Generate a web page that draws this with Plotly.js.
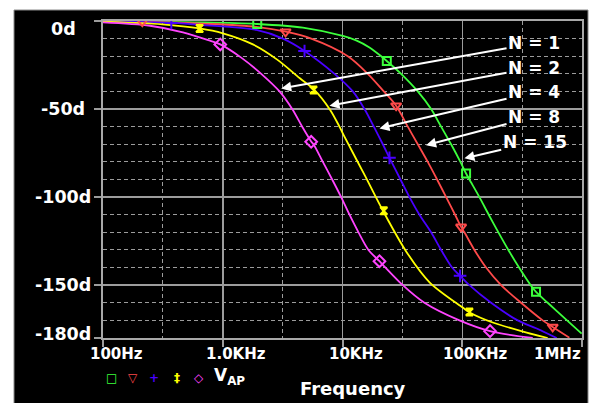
<!DOCTYPE html>
<html><head><meta charset="utf-8">
<script src="https://cdn.plot.ly/plotly-3.0.1.min.js"></script>
<style>html,body{margin:0;padding:0;background:#fff}#chart{width:590px;height:403px}</style>
</head><body><div id="chart"></div>
<script>
// ---- data (frequency in Hz, phase in degrees) ----
const greenF = [100, 683, 1941, 4667, 10060, 13000, 16800, 21020, 23440, 30880, 42540, 54950, 66600, 80690, 96540, 107640, 114760, 139130, 166400, 200400, 242800, 298100, 372800, 413180, 517000, 749600, 993600];
const greenP = [-0.3, -0.8, -1.7, -3.8, -8.5, -11, -15, -20, -22.7, -30, -40, -50, -60, -70, -80, -86.6, -90, -100, -110, -120, -130, -140, -150, -153.8, -160, -170, -177.5];
const redF = [100, 213, 683, 1904, 3345, 5476, 11080, 16270, 22130, 28040, 35100, 42540, 51530, 61660, 73320, 87140, 97790, 104260, 126360, 158130, 210960, 309740, 469590, 569200, 784300];
const redP = [-0.2, -0.4, -1.5, -3.3, -6.1, -10, -20, -30, -40, -48.1, -60, -70, -80, -90, -100, -110, -116.9, -120, -130, -140, -150, -160, -170, -173.7, -179.8];
const blueF = [100, 372, 683, 1904, 3178, 4819, 8576, 12200, 15260, 18260, 21710, 24670, 30480, 36240, 43920, 54950, 66600, 82260, 95920, 114760, 174000, 290500, 418600, 614500];
const blueP = [-0.2, -1.1, -2.3, -5.1, -10, -17, -30, -40, -50, -60, -70, -77.7, -90, -100, -110, -120, -130, -140, -144.7, -150, -160, -170, -174.6, -180];
const yellowF = [100, 313, 641, 1003, 1785, 2831, 4405, 5766, 7842, 9502, 10460, 15360, 21710, 34430, 53560, 100970, 115500, 179700, 345300, 517000];
const yellowP = [-0.4, -1.9, -4.2, -7, -13.3, -21.8, -32.5, -38.8, -50.2, -60.4, -66.1, -87.7, -107.6, -131.4, -148.5, -162.7, -165.5, -171.2, -176.9, -180];
const magentaF = [100, 247, 465, 782, 953, 1427, 2096, 2981, 3802, 4607, 5476, 5728, 6855, 8200, 9748, 11440, 13600, 16480, 20360, 22850, 31880, 48330, 94700, 170740, 387670];
const magentaP = [-0.8, -2.7, -6.4, -11.2, -13.3, -20.8, -30, -40, -50, -60, -68.4, -70, -80, -90, -100, -110, -120, -130, -136.4, -140, -150, -160, -170, -176.1, -180];

// marker points on each curve
const greenMF = [1941, 23440, 107640, 413180];
const greenMP = [-1.7, -22.7, -86.6, -153.8];
const redMF = [213, 3345, 28040, 97790, 569200];
const redMP = [-0.4, -6.1, -48.1, -116.9, -173.7];
const blueMF = [372, 4819, 24670, 95920];
const blueMP = [-1.1, -17, -77.7, -144.7];
const yellowMF = [641, 5728, 22130, 114760];
const yellowMP = [-4.2, -39.2, -107.8, -165.2];
const magentaMF = [953, 5476, 20360, 170740];
const magentaMP = [-13.3, -68.6, -136.4, -176.1];

// axis ticks
const xTickVals = [100, 1000, 10000, 100000, 1000000];
const xTickText = ['100Hz', '1.0KHz', '10KHz', '100KHz', '1MHz'];
const yTickVals = [0, -50, -100, -150, -180];
const yTickText = ['0d', '-50d', '-100d', '-150d', '-180d'];

// callouts
const calloutText = ['N = 1', 'N = 2', 'N = 4', 'N = 8', 'N = 15'];
const calloutTipF = [3078, 7788, 20360, 49900, 104260];
const calloutTipP = [-38.3, -48.1, -61.0, -70.5, -78.0];
const calloutLabelF = [397700, 397700, 397700, 397700, 402700];
const calloutLabelP = [-12.7, -26.5, -40.5, -54.4, -68.6];

// ---- styling ----
const colors = {green: '#3cff3c', red: '#ff4a4a', blue: '#4a00ff', yellow: '#ffff00', magenta: '#ff44ff'};
const FONT = 'DejaVu Sans, Arial, sans-serif';
const GRID = '#9c9c9c';

const series = [
  {f: greenF, p: greenP, mf: greenMF, mp: greenMP, c: colors.green, sym: 'square-open', size: 8},
  {f: redF, p: redP, mf: redMF, mp: redMP, c: colors.red, sym: 'triangle-down-open', size: 9},
  {f: blueF, p: blueP, mf: blueMF, mp: blueMP, c: colors.blue, sym: 'cross-thin-open', size: 9},
  {f: yellowF, p: yellowP, mf: yellowMF, mp: yellowMP, c: colors.yellow, sym: 'hourglass', size: 7},
  {f: magentaF, p: magentaP, mf: magentaMF, mp: magentaMP, c: colors.magenta, sym: 'diamond-open', size: 9}
];

const traces = [];
series.forEach(s => {
  traces.push({x: s.f, y: s.p, type: 'scatter', mode: 'lines', line: {color: s.c, width: 1.8, shape: 'spline', smoothing: 0.9}, showlegend: false, hoverinfo: 'skip'});
});
series.forEach(s => {
  traces.push({x: s.mf, y: s.mp, type: 'scatter', mode: 'markers', marker: {symbol: s.sym, size: s.size, color: s.c, line: {color: s.c, width: 2}}, showlegend: false, hoverinfo: 'skip'});
});

// plot area geometry in px
const L = 103, R = 8, T = 21, B = 65, W = 590, H = 403;
const pw = W - L - R, ph = H - T - B;
const px2paperX = px => (px - L) / pw;
const py2paperY = py => (H - B - py) / ph;

const annotations = [];
// y tick labels (centred in the left margin, as in the reference)
const yShift = [-8, 0, 0, 0, 4];
yTickVals.forEach((v, i) => {
  annotations.push({xref: 'paper', yref: 'y', x: px2paperX(63), y: v, xanchor: 'center', yanchor: 'middle', yshift: yShift[i],
    text: yTickText[i], showarrow: false, font: {family: FONT, size: 17.5, color: '#ffffff', weight: 'bold'}});
});
// x tick labels
xTickVals.forEach((v, i) => {
  const last = i === xTickVals.length - 1;
  annotations.push({xref: 'x', yref: 'paper', x: Math.log10(v), y: py2paperY(354), xanchor: last ? 'right' : 'center', yanchor: 'middle',
    xshift: last ? 1 : 13, text: xTickText[i], showarrow: false, font: {family: FONT, size: 15, color: '#ffffff', weight: 'bold'}});
});
// axis title
annotations.push({xref: 'paper', yref: 'paper', x: px2paperX(353), y: py2paperY(389), xanchor: 'center', yanchor: 'middle',
  text: 'Frequency', showarrow: false, font: {family: FONT, size: 18, color: '#ffffff', weight: 'bold'}});
// legend glyphs
const legendGlyphs = ['\u25A1', '\u25BD', '+', '\u2021', '\u25C7'];
const legendColors = [colors.green, colors.red, colors.blue, colors.yellow, colors.magenta];
const legendPx = [111, 133, 154, 177, 199];
legendGlyphs.forEach((g, i) => {
  annotations.push({xref: 'paper', yref: 'paper', x: px2paperX(legendPx[i]), y: py2paperY(378), xanchor: 'center', yanchor: 'middle',
    text: g, showarrow: false, font: {family: FONT, size: 12, color: legendColors[i], weight: 'bold'}});
});
annotations.push({xref: 'paper', yref: 'paper', x: px2paperX(212), y: py2paperY(376), xanchor: 'left', yanchor: 'middle',
  text: 'V<sub>AP</sub>', showarrow: false, font: {family: FONT, size: 17, color: '#ffffff', weight: 'bold'}});
// callouts with arrows
calloutText.forEach((t, i) => {
  annotations.push({xref: 'x', yref: 'y', x: Math.log10(calloutTipF[i]), y: calloutTipP[i],
    axref: 'x', ayref: 'y', ax: Math.log10(calloutLabelF[i]), ay: calloutLabelP[i],
    text: t, showarrow: true, arrowhead: 2, arrowsize: 1, arrowwidth: 2, arrowcolor: '#ffffff', standoff: 0,
    font: {family: FONT, size: 17, color: '#ffffff', weight: 'bold'}});
});

const minorX = [316.23, 3162.3, 31623, 316228];
const minorY = [-10, -20, -30, -40, -60, -70, -80, -90, -110, -120, -130, -140, -160, -170];

const layout = {
  width: W, height: H,
  margin: {l: L, r: R, t: T, b: B, pad: 0},
  paper_bgcolor: '#ffffff',
  plot_bgcolor: '#000000',
  showlegend: false,
  xaxis: {
    type: 'log', range: [2, 6], tickmode: 'array', tickvals: xTickVals, showticklabels: false,
    ticks: 'outside', ticklen: 7, tickwidth: 2, tickcolor: GRID,
    showgrid: true, gridcolor: GRID, gridwidth: 1.5,
    showline: true, linecolor: '#a8a8a8', linewidth: 2, mirror: true, zeroline: false,
    minor: {tickmode: 'array', tickvals: minorX, ticks: '', showgrid: true, gridcolor: GRID, gridwidth: 1, griddash: '4px,3px'},
    fixedrange: true
  },
  yaxis: {
    range: [-180, 0], tickmode: 'array', tickvals: yTickVals, showticklabels: false,
    ticks: 'outside', ticklen: 7, tickwidth: 2, tickcolor: GRID,
    showgrid: true, gridcolor: GRID, gridwidth: 1.5,
    showline: true, linecolor: '#a8a8a8', linewidth: 2, mirror: true, zeroline: false,
    minor: {tickmode: 'array', tickvals: minorY, ticks: '', showgrid: true, gridcolor: GRID, gridwidth: 1, griddash: '4px,3px'},
    fixedrange: true
  },
  shapes: [{type: 'rect', xref: 'paper', yref: 'paper', layer: 'below',
    x0: px2paperX(14), x1: px2paperX(588), y0: py2paperY(410), y1: py2paperY(10),
    fillcolor: '#000000', line: {color: '#8a8a8a', width: 1}}],
  annotations: annotations
};

Plotly.newPlot('chart', traces, layout, {displayModeBar: false, staticPlot: true});
</script>
</body></html>
